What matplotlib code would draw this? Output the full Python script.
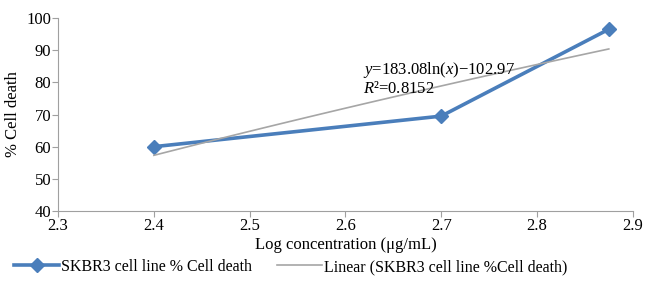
import numpy as np
import matplotlib.pyplot as plt

plt.rcParams['font.family'] = ['Liberation Serif', 'DejaVu Serif']
plt.rcParams['mathtext.fontset'] = 'custom'
plt.rcParams['mathtext.rm'] = 'Liberation Serif'
plt.rcParams['mathtext.it'] = 'Liberation Serif:italic'

log_conc = [2.4, 2.7, 2.875]
cell_death = [60.0, 69.5, 96.5]
fit_a = 183.08
fit_b = -102.97
r2 = 0.8152

xfit = np.linspace(log_conc[0], log_conc[-1], 50)
yfit = fit_a * np.log(xfit) + fit_b

fig = plt.figure(figsize=(6.53, 2.81), dpi=100)
ax = fig.add_axes([0.089, 0.249, 0.880, 0.687])

l1, = ax.plot(log_conc, cell_death, '-D', color='#4a7ebb', lw=2.6, ms=7,
              label='SKBR3 cell line % Cell death')
l2, = ax.plot(xfit, yfit, '-', color='#a6a6a6', lw=1.2,
              label='Linear (SKBR3 cell line %Cell death)')

ax.set_xlim(2.3, 2.9)
ax.set_ylim(40, 100)
ax.set_xticks(np.arange(2.3, 2.91, 0.1))
ax.set_yticks(range(40, 101, 10))
ax.tick_params(labelsize=12, color='#a0a0a0', length=4, pad=1)
for s in ['top', 'right']:
    ax.spines[s].set_visible(False)
for s in ['left', 'bottom']:
    ax.spines[s].set_color('#a0a0a0')

ax.set_xlabel('Log concentration (μg/mL)', fontsize=12, labelpad=2)
ax.set_ylabel('% Cell death', fontsize=12, labelpad=4)

ax.text(2.618, 82.6, '$y$=183.08ln($x$)−102.97', fontsize=12)
ax.text(2.618, 76.6, '$R$²=0.8152', fontsize=12)

fig.legend(handles=[l1, l2], loc='lower left', bbox_to_anchor=(0.0, -0.03),
           ncol=2, frameon=False, fontsize=11.5, handlelength=2.8,
           handletextpad=0.1, columnspacing=1.6)

fig.savefig('out.png', dpi=100)
